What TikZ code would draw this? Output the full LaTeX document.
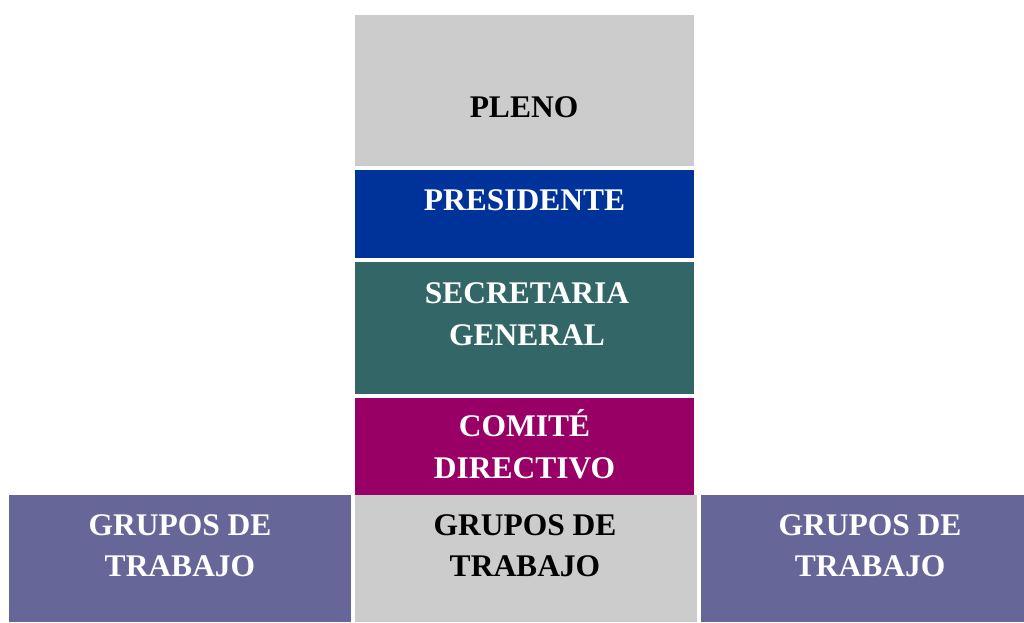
\documentclass[tikz,border=0pt]{standalone}
\usepackage{fontspec}
\setmainfont{Liberation Serif}
\definecolor{boxgray}{HTML}{CCCCCC}
\definecolor{boxblue}{HTML}{003399}
\definecolor{boxteal}{HTML}{336666}
\definecolor{boxmag}{HTML}{990066}
\definecolor{boxpurp}{HTML}{666699}
\tikzset{
  blk/.style={inner sep=0pt, outer sep=0pt, draw=none},
  lbl/.style={anchor=base, align=center, inner sep=0pt, font=\fontsize{31.5}{41.5}\selectfont\bfseries},
}
\begin{document}
\begin{tikzpicture}[x=1pt,y=-1pt]
\useasboundingbox (0,0) rectangle (1024,622);
\fill[boxgray] (355,15) rectangle (694,165.7);
\node[blk] (pleno) at (524.5,90) {};
\fill[boxblue] (355,170) rectangle (694,258.3);
\node[blk] (pres) at (524.5,214) {};
\fill[boxteal] (355,261.7) rectangle (694,394);
\node[blk] (sec) at (524.5,328) {};
\fill[boxmag] (355,397.7) rectangle (694,495);
\node[blk] (com) at (524.5,446) {};
\fill[boxpurp] (9,495) rectangle (351,622);
\node[blk] (gl) at (180,558) {};
\fill[boxgray] (355,495) rectangle (697,622);
\node[blk] (gm) at (526,558) {};
\fill[boxpurp] (701,495) rectangle (1024,622);
\node[blk] (gr) at (862.5,558) {};

\node[lbl, text=black] (tpleno) at (524,117) {PLENO};
\node[lbl, text=white] (tpres) at (524.5,210.5) {PRESIDENTE};
\node[lbl, text=white] (tsec) at (527,345) {SECRETARIA\\GENERAL};
\node[lbl, text=white] (tcom) at (524.5,478) {COMITÉ\\DIRECTIVO};
\node[lbl, text=white] (tgl) at (180,576.5) {GRUPOS DE\\TRABAJO};
\node[lbl, text=black] (tgm) at (525,576.5) {GRUPOS DE\\TRABAJO};
\node[lbl, text=white] (tgr) at (870,576.5) {GRUPOS DE\\TRABAJO};
\end{tikzpicture}
\end{document}
